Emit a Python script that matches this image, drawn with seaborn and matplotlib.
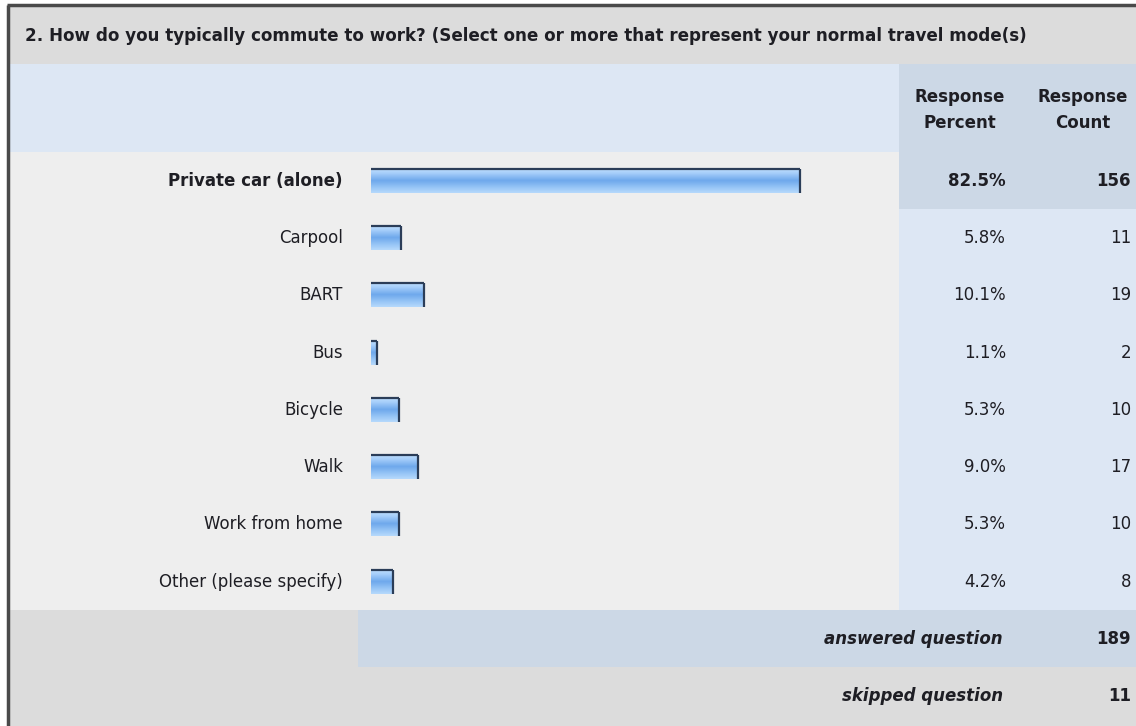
import numpy as np
import matplotlib
matplotlib.use("Agg")
import matplotlib.pyplot as plt
from matplotlib.patches import Rectangle
from matplotlib.colors import LinearSegmentedColormap
import seaborn as sns

title = "2. How do you typically commute to work? (Select one or more that represent your normal travel mode(s)"
categories = ["Private car (alone)", "Carpool", "BART", "Bus", "Bicycle", "Walk",
              "Work from home", "Other (please specify)"]
percent = [82.5, 5.8, 10.1, 1.1, 5.3, 9.0, 5.3, 4.2]
counts = [156, 11, 19, 2, 10, 17, 10, 8]
col_headers = ["Response\nPercent", "Response\nCount"]
footer_labels = ["answered question", "skipped question"]
footer_values = [189, 11]

sns.set_theme(style="white")
plt.rcParams['font.family'] = ['DejaVu Sans']

W, H = 1136, 726
fig = plt.figure(figsize=(W / 100, H / 100), dpi=100)
fig.patch.set_facecolor("white")
bg = fig.add_axes([0, 0, 1, 1])
bg.set_xlim(0, W)
bg.set_ylim(H, 0)
bg.axis("off")

GRAY = "#dcdcdc"
LIGHT = "#dde7f4"
DARK = "#ccd8e6"
ROW = "#eeeeee"
TXT = "#1e1e24"


def rect(x0, y0, x1, y1, c):
    bg.add_patch(Rectangle((x0, y0), x1 - x0, y1 - y0, facecolor=c,
                           edgecolor="none", zorder=0))


L = 9
COL = 899
ROW_TOP, PITCH = 152, 57.3
n = len(categories)
ROW_BOT = ROW_TOP + PITCH * n

rect(L, 6, W, 64, GRAY)
rect(L, 64, COL, ROW_TOP, LIGHT)
rect(COL, 64, W, ROW_TOP, DARK)
rect(L, ROW_TOP, COL, ROW_BOT, ROW)
for i in range(n):
    rect(COL, ROW_TOP + i * PITCH, W, ROW_TOP + (i + 1) * PITCH, DARK if i == 0 else LIGHT)
rect(L, ROW_BOT, 358, ROW_BOT + 57, GRAY)
rect(358, ROW_BOT, W, ROW_BOT + 57, DARK)
rect(L, ROW_BOT + 57, W, H, GRAY)
bg.plot([8, 8], [5, H], color="#4a4a4a", lw=2.5, solid_capstyle="butt")
bg.plot([7, W], [5, 5], color="#4a4a4a", lw=2.5, solid_capstyle="butt")

FS = 12
bg.text(25, 36, title, fontsize=12.1, fontweight="bold", color=TXT, ha="left", va="center")
bg.text(960, 110, col_headers[0], fontsize=FS, fontweight="bold", color=TXT,
        ha="center", va="center", linespacing=1.6)
bg.text(1083, 110, col_headers[1], fontsize=FS, fontweight="bold", color=TXT,
        ha="center", va="center", linespacing=1.6)

for i, (cat, p, c) in enumerate(zip(categories, percent, counts)):
    yc = ROW_TOP + PITCH * (i + 0.5)
    w = "bold" if i == 0 else "normal"
    bg.text(343, yc, cat, fontsize=FS, fontweight=w, color=TXT, ha="right", va="center")
    bg.text(1006, yc, f"{p:.1f}%", fontsize=FS, fontweight=w, color=TXT, ha="right", va="center")
    bg.text(1131, yc, f"{c}", fontsize=FS, fontweight=w, color=TXT, ha="right", va="center")

for j, (lab, v) in enumerate(zip(footer_labels, footer_values)):
    yc = ROW_BOT + 57 * (j + 0.5)
    bg.text(1003, yc, lab, fontsize=FS, fontweight="bold", fontstyle="italic",
            color=TXT, ha="right", va="center")
    bg.text(1131, yc, f"{v}", fontsize=FS, fontweight="bold", color=TXT, ha="right", va="center")

# bar axes: 0..100 % mapped onto the chart column
ax = fig.add_axes([371 / W, 1 - ROW_BOT / H, 520 / W, (ROW_BOT - ROW_TOP) / H])
sns.barplot(x=percent, y=categories, orient="h", ax=ax, width=0.42,
            color="#8cbff3", edgecolor="none", linewidth=0)
ax.set_xlim(0, 100)
ax.set_ylim(n - 0.5, -0.5)
ax.patch.set_alpha(0)
ax.axis("off")

cmap = LinearSegmentedColormap.from_list(
    "bar", [(0.0, "#c2e0fd"), (0.2, "#a6cefa"), (0.5, "#6ea8ec"),
            (0.75, "#92c2f5"), (1.0, "#b6d9fc")])
grad = np.linspace(0, 1, 64).reshape(-1, 1)
for p in list(ax.patches):
    x0, y0, w, h = p.get_x(), p.get_y(), p.get_width(), p.get_height()
    im = ax.imshow(grad, cmap=cmap, extent=(x0, x0 + w, y0 + h, y0),
                   aspect="auto", interpolation="bilinear", zorder=3)
    im.set_clip_path(p)
    ax.plot([x0, x0 + w], [y0, y0], color="#2b3d58", lw=1.6, zorder=4,
            solid_capstyle="butt")
    ax.plot([x0 + w, x0 + w], [y0, y0 + h], color="#2b3d58", lw=1.6, zorder=4,
            solid_capstyle="butt")
ax.set_xlim(0, 100)
ax.set_ylim(n - 0.5, -0.5)

fig.savefig("out.png", dpi=100, facecolor="white")
